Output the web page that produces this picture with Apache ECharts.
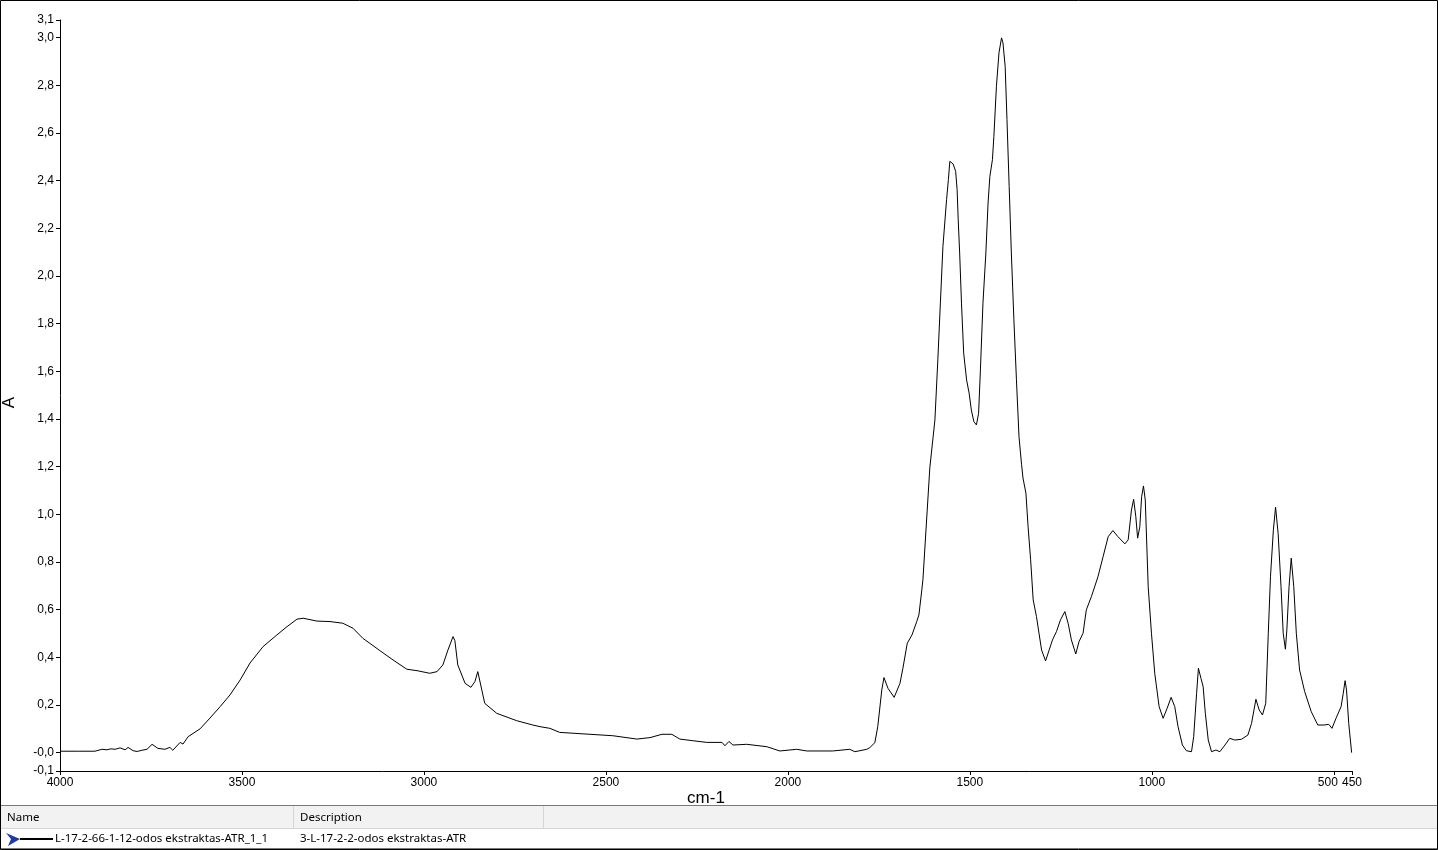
<!DOCTYPE html>
<html><head><meta charset="utf-8">
<script src="https://cdn.jsdelivr.net/npm/echarts@6/dist/echarts.min.js"></script>
<style>html,body{margin:0;padding:0;background:#fff}#c{width:1438px;height:850px}</style>
</head><body><div id="c"></div>
<script>
const wavenumbers = [4000,3950,3904,3899,3885,3871,3860,3849,3835,3821,3813,3799,3788,3775,3761,3747,3731,3712,3698,3690,3670,3662,3648,3615,3588,3560,3533,3505,3478,3442,3404,3376,3349,3332,3294,3258,3223,3195,3168,3121,3085,3047,3019,2984,2964,2948,2934,2920,2915,2907,2887,2871,2860,2852,2841,2833,2800,2745,2701,2681,2654,2627,2544,2481,2415,2379,2346,2319,2297,2261,2223,2181,2173,2162,2151,2113,2058,2022,1976,1948,1877,1830,1816,1783,1775,1761,1753,1742,1736,1725,1708,1692,1684,1672,1659,1654,1646,1640,1632,1629,1610,1596,1588,1581,1574,1564,1559,1555,1546,1539,1535,1532,1528,1523,1517,1509,1502,1496,1489,1482,1476,1471,1464,1456,1450,1445,1438,1434,1427,1420,1413,1409,1403,1398,1392,1386,1379,1372,1365,1358,1354,1346,1340,1333,1326,1317,1310,1303,1292,1282,1273,1262,1251,1239,1230,1221,1209,1200,1189,1180,1166,1148,1134,1120,1107,1093,1074,1065,1056,1050,1044,1039,1033,1028,1023,1018,1010,1001,992,980,969,958,947,937,928,916,905,891,885,877,872,865,859,853,845,836,824,813,799,786,772,754,736,726,714,705,696,687,680,674,666,660,653,645,639,633,629,623,617,610,603,594,580,562,544,526,514,505,494,480,474,469,465,459,451];
const absorbance = [0.006,0.006,0.006,0.010,0.014,0.012,0.016,0.014,0.020,0.012,0.022,0.008,0.005,0.010,0.014,0.035,0.018,0.014,0.022,0.010,0.043,0.036,0.067,0.100,0.145,0.193,0.242,0.305,0.376,0.445,0.494,0.529,0.560,0.564,0.552,0.550,0.543,0.522,0.480,0.428,0.389,0.350,0.344,0.333,0.340,0.368,0.431,0.487,0.470,0.368,0.291,0.274,0.298,0.340,0.263,0.207,0.165,0.134,0.116,0.109,0.102,0.085,0.077,0.071,0.057,0.063,0.077,0.077,0.057,0.050,0.043,0.043,0.029,0.047,0.032,0.035,0.025,0.007,0.014,0.007,0.007,0.014,0.004,0.014,0.021,0.042,0.110,0.263,0.315,0.270,0.232,0.291,0.354,0.459,0.494,0.500,0.550,0.578,0.683,0.725,1.195,1.396,1.648,1.887,2.124,2.320,2.404,2.481,2.470,2.439,2.362,2.236,2.096,1.886,1.676,1.564,1.508,1.438,1.389,1.375,1.424,1.606,1.886,2.096,2.306,2.418,2.488,2.586,2.796,2.936,2.999,2.978,2.880,2.656,2.376,2.096,1.816,1.564,1.326,1.210,1.152,1.089,0.948,0.809,0.641,0.571,0.501,0.431,0.385,0.431,0.473,0.508,0.557,0.592,0.543,0.473,0.414,0.466,0.501,0.599,0.655,0.738,0.822,0.906,0.932,0.906,0.876,0.893,1.018,1.063,0.990,0.900,0.948,1.074,1.119,1.060,0.696,0.501,0.333,0.193,0.144,0.186,0.232,0.193,0.109,0.032,0.008,0.004,0.067,0.249,0.354,0.312,0.277,0.165,0.053,0.004,0.011,0.004,0.032,0.060,0.053,0.056,0.074,0.123,0.224,0.179,0.158,0.207,0.501,0.738,0.935,1.030,0.921,0.696,0.501,0.434,0.515,0.696,0.816,0.696,0.501,0.347,0.256,0.172,0.116,0.116,0.119,0.102,0.144,0.193,0.249,0.302,0.263,0.123,0.000];
const xTickValues = [4000,3500,3000,2500,2000,1500,1000,500,450];
const yTickValues = [-0.077,0,0.2,0.4,0.6,0.8,1.0,1.2,1.4,1.6,1.8,2.0,2.2,2.4,2.6,2.8,3.0,3.074];
const yTickLabels = ['-0,1','-0,0','0,2','0,4','0,6','0,8','1,0','1,2','1,4','1,6','1,8','2,0','2,2','2,4','2,6','2,8','3,0','3,1'];
const xAxisTitle = 'cm-1';
const yAxisTitle = 'A';
const headerName = 'Name';
const headerDescription = 'Description';
const legendName = 'L-17-2-66-1-12-odos ekstraktas-ATR_1_1';
const legendDescription = '3-L-17-2-2-odos ekstraktas-ATR';

const seriesData = wavenumbers.map((w, i) => [w, absorbance[i]]);
const chart = echarts.init(document.getElementById('c'), null, {renderer: 'canvas'});
const labelFont = {fontFamily: 'Liberation Sans', fontSize: 12, color: '#000'};
const tableFont = {fontFamily: 'Noto Sans', fontSize: 11.5, fill: '#000'};

chart.setOption({
  animation: false,
  backgroundColor: '#fff',
  grid: {left: 60, right: 86, top: 20, bottom: 79, containLabel: false, outerBoundsMode: 'none'},
  xAxis: {
    type: 'value', min: 450, max: 4000, inverse: true,
    name: xAxisTitle, nameLocation: 'middle', nameGap: 19, nameMoveOverlap: false,
    nameTextStyle: {fontFamily: 'Liberation Sans', fontSize: 17, color: '#000'},
    axisLine: {show: true, onZero: false, lineStyle: {color: '#000', width: 1}},
    axisTick: {show: true, length: 4, customValues: xTickValues, lineStyle: {color: '#000'}},
    axisLabel: Object.assign({
      margin: 6, customValues: xTickValues, hideOverlap: false,
      formatter: v => v === 500 ? '{s|500}' : String(v),
      rich: {s: {fontFamily: 'Liberation Sans', fontSize: 12, color: '#000', padding: [0, 12, 0, 0]}}
    }, labelFont),
    splitLine: {show: false}
  },
  yAxis: {
    type: 'value', min: -0.077, max: 3.074,
    name: yAxisTitle, nameLocation: 'middle', nameGap: 42, nameRotate: 90, nameMoveOverlap: false,
    nameTextStyle: {fontFamily: 'Liberation Sans', fontSize: 17, color: '#000', padding: [0, 14, 0, 0]},
    axisLine: {show: true, onZero: false, lineStyle: {color: '#000', width: 1}},
    axisTick: {show: true, length: 4, customValues: yTickValues, lineStyle: {color: '#000'}},
    axisLabel: Object.assign({
      margin: 6, customValues: yTickValues, hideOverlap: false,
      formatter: v => {
        let best = 0, d = Infinity;
        yTickValues.forEach((t, i) => { const dd = Math.abs(t - v); if (dd < d) { d = dd; best = i; } });
        return yTickLabels[best];
      }
    }, labelFont),
    splitLine: {show: false}
  },
  series: [{
    type: 'line', data: seriesData, showSymbol: false, symbol: 'none',
    lineStyle: {color: '#000', width: 1}, smooth: false, clip: true
  }],
  graphic: [
    {type: 'rect', shape: {x: 0.5, y: 0.5, width: 1437, height: 849}, style: {fill: null, stroke: '#000', lineWidth: 1}, silent: true},
    {type: 'rect', shape: {x: 1, y: 806, width: 1436, height: 22}, style: {fill: '#f2f2f2'}, silent: true},
    {type: 'line', shape: {x1: 1, y1: 805.5, x2: 1437, y2: 805.5}, style: {stroke: '#7a7a7a', lineWidth: 1}, silent: true},
    {type: 'line', shape: {x1: 1, y1: 828.5, x2: 1437, y2: 828.5}, style: {stroke: '#d5d5d5', lineWidth: 1}, silent: true},
    {type: 'line', shape: {x1: 1, y1: 848.5, x2: 1437, y2: 848.5}, style: {stroke: '#7a7a7a', lineWidth: 1}, silent: true},
    {type: 'line', shape: {x1: 293.5, y1: 806, x2: 293.5, y2: 828}, style: {stroke: '#d5d5d5', lineWidth: 1}, silent: true},
    {type: 'line', shape: {x1: 543.5, y1: 806, x2: 543.5, y2: 828}, style: {stroke: '#d5d5d5', lineWidth: 1}, silent: true},
    {type: 'text', x: 7, y: 818, style: Object.assign({text: headerName, verticalAlign: 'middle'}, tableFont), silent: true},
    {type: 'text', x: 300, y: 818, style: Object.assign({text: headerDescription, verticalAlign: 'middle'}, tableFont), silent: true},
    {type: 'text', x: 55, y: 839, style: Object.assign({text: legendName, verticalAlign: 'middle'}, tableFont), silent: true},
    {type: 'text', x: 300, y: 839, style: Object.assign({text: legendDescription, verticalAlign: 'middle'}, tableFont), silent: true},
    {type: 'polygon', shape: {points: [[6, 833], [20, 839], [8, 846], [11, 839]]}, style: {fill: '#1f3aa6'}, silent: true},
    {type: 'line', shape: {x1: 20, y1: 839, x2: 53, y2: 839}, style: {stroke: '#000', lineWidth: 2}, silent: true}
  ]
});
</script></body></html>
